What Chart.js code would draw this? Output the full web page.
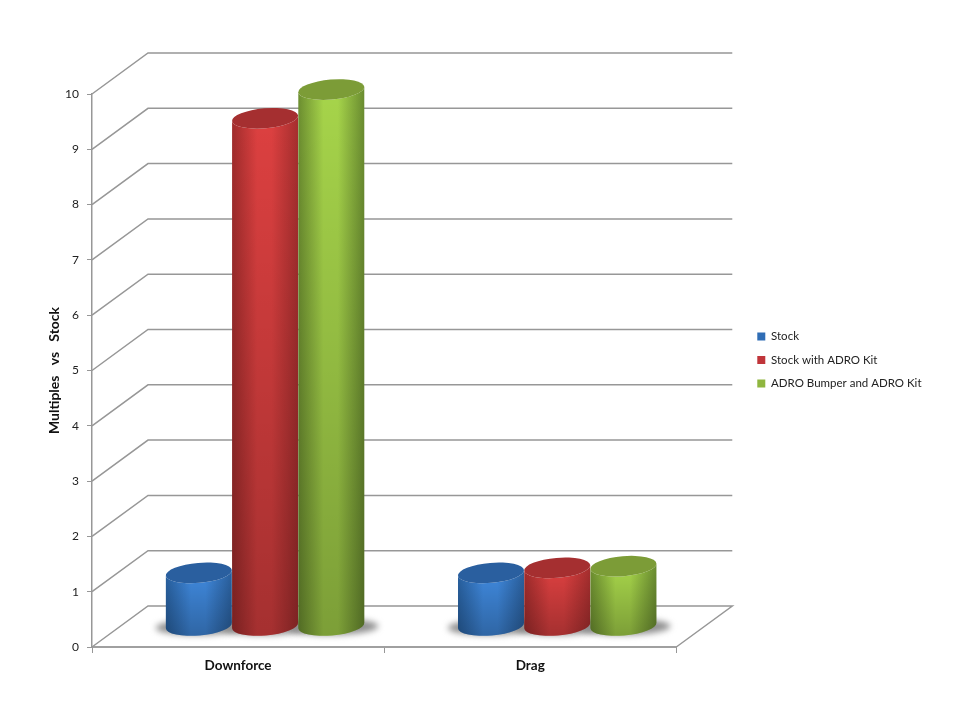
<!DOCTYPE html>
<html>
<head>
<meta charset="utf-8">
<title>Multiples vs Stock</title>
<script src="https://cdn.jsdelivr.net/npm/chart.js@4/dist/chart.umd.min.js"></script>
<style>
  html, body { margin: 0; padding: 0; background: #fff; }
  canvas { display: block; }
</style>
</head>
<body>
<canvas id="chart" width="960" height="720"></canvas>
<script>
// values
const categories = ['Downforce', 'Drag'];
const stock = [0.97, 0.97];
const stockAdro = [9.19, 1.06];
const bumperAdro = [9.71, 1.09];
const seriesNames = ['Stock', 'Stock with ADRO Kit', 'ADRO Bumper and ADRO Kit'];
const yTicks = [0, 1, 2, 3, 4, 5, 6, 7, 8, 9, 10];

// look of the fake 3D box
const DEPTH_X = 56, DEPTH_Y = 41;
const WALL = '#979797';
const FONT = 'Lato, "Open Sans", sans-serif';
const looks = [
  { legend: '#2f6db5', edgeL: '#28609f', mid: '#3f88dc', edgeR: '#2a5f9c', cap: '#2a5f9f' },
  { legend: '#c0353a', edgeL: '#a02c2c', mid: '#dc4040', edgeR: '#a52e2e', cap: '#a52f30' },
  { legend: '#8fb63f', edgeL: '#6c8e30', mid: '#a6d44a', edgeR: '#6a8c30', cap: '#7c9c37' }
];

function drawCylinder(ctx, el, look) {
  const rx = el.width / 2, ry = 10;
  const cx = el.x + DEPTH_X / 2 - 1;
  const top = el.y - DEPTH_Y / 2;
  const bottom = el.base - DEPTH_Y / 2 - 0.5;
  const tilt = -0.085;

  const body = new Path2D();
  body.ellipse(cx, top, rx, ry, tilt, Math.PI, 0, true);
  body.ellipse(cx, bottom, rx, ry, tilt, 0, Math.PI, false);
  body.closePath();

  const g = ctx.createLinearGradient(cx - rx, 0, cx + rx, 0);
  g.addColorStop(0, look.edgeL);
  g.addColorStop(0.38, look.mid);
  g.addColorStop(0.6, look.mid);
  g.addColorStop(1, look.edgeR);
  ctx.fillStyle = g;
  ctx.fill(body);

  // gets darker towards the floor
  const v = ctx.createLinearGradient(0, top, 0, bottom + ry);
  v.addColorStop(0, 'rgba(0,0,0,0)');
  v.addColorStop(1, 'rgba(0,0,0,0.25)');
  ctx.fillStyle = v;
  ctx.fill(body);

  ctx.beginPath();
  ctx.ellipse(cx, top, rx, ry, tilt, 0, Math.PI * 2);
  ctx.fillStyle = look.cap;
  ctx.fill();
}

const boxPlugin = {
  id: 'box3d',
  beforeDatasetsDraw(chart) {
    const { ctx, chartArea: a, scales } = chart;
    ctx.save();
    ctx.strokeStyle = WALL;
    ctx.lineWidth = 1.5;
    scales.y.ticks.forEach(t => {
      const y = scales.y.getPixelForValue(t.value);
      ctx.beginPath();
      ctx.moveTo(a.left, y);
      ctx.lineTo(a.left + DEPTH_X, y - DEPTH_Y);
      ctx.lineTo(a.right + DEPTH_X, y - DEPTH_Y);
      if (t.value === 0) ctx.lineTo(a.right, y);
      ctx.stroke();
    });
    // floor shadows
    ctx.filter = 'blur(3px)';
    ctx.fillStyle = '#8e8e8e';
    chart.data.datasets.forEach((ds, i) => {
      chart.getDatasetMeta(i).data.forEach(el => {
        ctx.beginPath();
        ctx.ellipse(el.x + DEPTH_X / 2 + 1, el.base - DEPTH_Y / 2 + 1, el.width / 2 + 12, 8, -0.02, 0, Math.PI * 2);
        ctx.fill();
      });
    });
    ctx.restore();
  },
  // the plain bars are replaced by cylinders
  beforeDatasetDraw() {
    return false;
  },
  afterDatasetsDraw(chart) {
    const { ctx } = chart;
    ctx.save();
    chart.data.labels.forEach((_, idx) => {
      chart.data.datasets.forEach((ds, i) => {
        drawCylinder(ctx, chart.getDatasetMeta(i).data[idx], looks[i]);
      });
    });
    ctx.restore();
  }
};

// empty axes, only there to reserve room around the plot
const spacer = (axis, position, fit) => ({
  type: 'linear',
  axis,
  position,
  display: true,
  ticks: { display: false },
  grid: { display: false },
  border: { display: false },
  afterFit: fit
});

new Chart(document.getElementById('chart'), {
  type: 'bar',
  data: {
    labels: categories,
    datasets: [
      { label: seriesNames[0], data: stock, backgroundColor: looks[0].legend },
      { label: seriesNames[1], data: stockAdro, backgroundColor: looks[1].legend },
      { label: seriesNames[2], data: bumperAdro, backgroundColor: looks[2].legend }
    ]
  },
  options: {
    responsive: false,
    animation: false,
    layout: { padding: { left: 42, right: 28.5, top: 0, bottom: 0 } },
    datasets: { bar: { categoryPercentage: 0.68, barPercentage: 1 } },
    plugins: {
      tooltip: { enabled: false },
      legend: {
        position: 'right',
        maxWidth: 220,
        labels: { boxWidth: 8, boxHeight: 8, padding: 12, color: '#222', font: { family: FONT, size: 11.5 } }
      }
    },
    scales: {
      x: {
        offset: true,
        grid: { drawOnChartArea: false, color: WALL, tickLength: 6 },
        border: { color: '#a0a0a0', width: 2 },
        ticks: { color: '#111', padding: 5, font: { family: FONT, size: 13.5, weight: 'bold' } },
        afterFit: s => { s.height = 73; }
      },
      y: {
        min: 0,
        max: 10,
        afterBuildTicks: s => { s.ticks = yTicks.map(value => ({ value })); },
        grid: { drawOnChartArea: false, color: WALL, tickLength: 5 },
        border: { color: WALL, width: 1.5 },
        ticks: { color: '#222', padding: 8, font: { family: FONT, size: 12 } },
        title: { display: true, text: 'Multiples   vs   Stock', color: '#111', font: { family: FONT, size: 14, weight: 'bold' } },
        afterFit: s => { s.width = 50; }
      },
      topRoom: spacer('x', 'top', s => { s.height = 94; }),
      depthRoom: spacer('y', 'right', s => { s.width = 69; })
    }
  },
  plugins: [boxPlugin]
});
</script>
</body>
</html>
